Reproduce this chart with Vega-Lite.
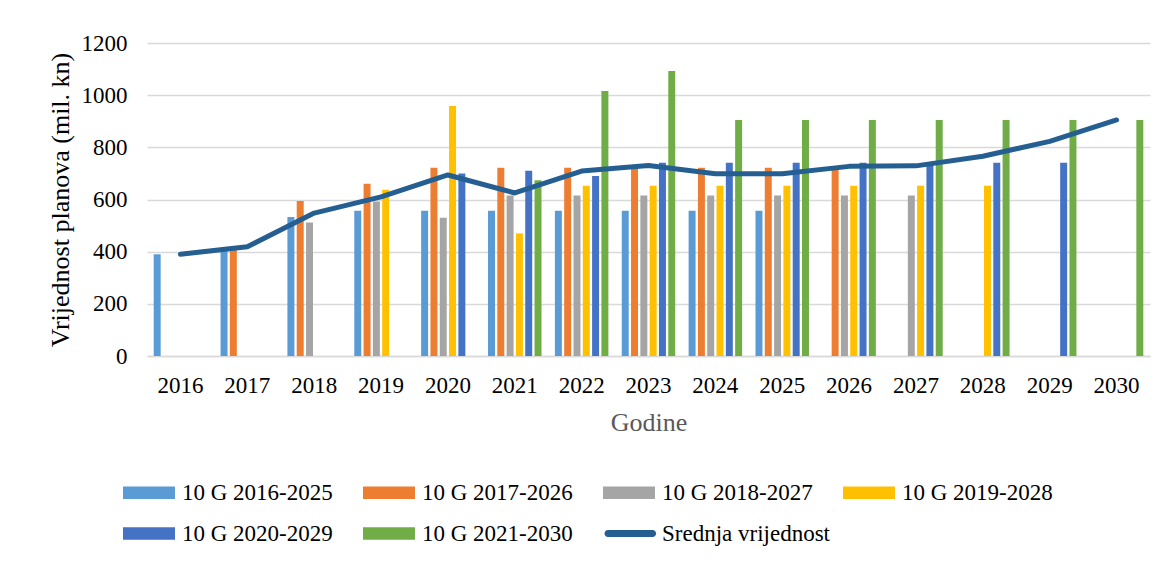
{
  "$schema": "https://vega.github.io/schema/vega-lite/v6.json",
  "autosize": {"type": "none"},
  "padding": {"left": 147, "top": 43, "right": 19, "bottom": 205},
  "width": 1003,
  "height": 313,
  "background": "white",
  "config": {
    "font": "Liberation Serif",
    "view": {"stroke": null},
    "style": {"guide-label": {"font": "Liberation Serif"}, "guide-title": {"font": "Liberation Serif"}},
    "axis": {"labelFont": "Liberation Serif", "titleFont": "Liberation Serif", "labelColor": "#000000", "titleFontWeight": "normal"},
    "legend": {"labelFont": "Liberation Serif"}
  },
  "datasets": {
    "bars": [
      {"year": "2016", "series": "10 G 2016-2025", "value": 390},
      {"year": "2017", "series": "10 G 2016-2025", "value": 412},
      {"year": "2017", "series": "10 G 2017-2026", "value": 420},
      {"year": "2018", "series": "10 G 2016-2025", "value": 533},
      {"year": "2018", "series": "10 G 2017-2026", "value": 594},
      {"year": "2018", "series": "10 G 2018-2027", "value": 512},
      {"year": "2019", "series": "10 G 2016-2025", "value": 557},
      {"year": "2019", "series": "10 G 2017-2026", "value": 660},
      {"year": "2019", "series": "10 G 2018-2027", "value": 592},
      {"year": "2019", "series": "10 G 2019-2028", "value": 637},
      {"year": "2020", "series": "10 G 2016-2025", "value": 557},
      {"year": "2020", "series": "10 G 2017-2026", "value": 722},
      {"year": "2020", "series": "10 G 2018-2027", "value": 530},
      {"year": "2020", "series": "10 G 2019-2028", "value": 958},
      {"year": "2020", "series": "10 G 2020-2029", "value": 700},
      {"year": "2021", "series": "10 G 2016-2025", "value": 557},
      {"year": "2021", "series": "10 G 2017-2026", "value": 722},
      {"year": "2021", "series": "10 G 2018-2027", "value": 615},
      {"year": "2021", "series": "10 G 2019-2028", "value": 470},
      {"year": "2021", "series": "10 G 2020-2029", "value": 710},
      {"year": "2021", "series": "10 G 2021-2030", "value": 674},
      {"year": "2022", "series": "10 G 2016-2025", "value": 557},
      {"year": "2022", "series": "10 G 2017-2026", "value": 722},
      {"year": "2022", "series": "10 G 2018-2027", "value": 615},
      {"year": "2022", "series": "10 G 2019-2028", "value": 653},
      {"year": "2022", "series": "10 G 2020-2029", "value": 690},
      {"year": "2022", "series": "10 G 2021-2030", "value": 1016},
      {"year": "2023", "series": "10 G 2016-2025", "value": 557},
      {"year": "2023", "series": "10 G 2017-2026", "value": 722},
      {"year": "2023", "series": "10 G 2018-2027", "value": 615},
      {"year": "2023", "series": "10 G 2019-2028", "value": 653},
      {"year": "2023", "series": "10 G 2020-2029", "value": 741},
      {"year": "2023", "series": "10 G 2021-2030", "value": 1093},
      {"year": "2024", "series": "10 G 2016-2025", "value": 557},
      {"year": "2024", "series": "10 G 2017-2026", "value": 722},
      {"year": "2024", "series": "10 G 2018-2027", "value": 615},
      {"year": "2024", "series": "10 G 2019-2028", "value": 653},
      {"year": "2024", "series": "10 G 2020-2029", "value": 741},
      {"year": "2024", "series": "10 G 2021-2030", "value": 905},
      {"year": "2025", "series": "10 G 2016-2025", "value": 557},
      {"year": "2025", "series": "10 G 2017-2026", "value": 722},
      {"year": "2025", "series": "10 G 2018-2027", "value": 615},
      {"year": "2025", "series": "10 G 2019-2028", "value": 653},
      {"year": "2025", "series": "10 G 2020-2029", "value": 741},
      {"year": "2025", "series": "10 G 2021-2030", "value": 905},
      {"year": "2026", "series": "10 G 2017-2026", "value": 722},
      {"year": "2026", "series": "10 G 2018-2027", "value": 615},
      {"year": "2026", "series": "10 G 2019-2028", "value": 653},
      {"year": "2026", "series": "10 G 2020-2029", "value": 741},
      {"year": "2026", "series": "10 G 2021-2030", "value": 905},
      {"year": "2027", "series": "10 G 2018-2027", "value": 615},
      {"year": "2027", "series": "10 G 2019-2028", "value": 653},
      {"year": "2027", "series": "10 G 2020-2029", "value": 741},
      {"year": "2027", "series": "10 G 2021-2030", "value": 905},
      {"year": "2028", "series": "10 G 2019-2028", "value": 653},
      {"year": "2028", "series": "10 G 2020-2029", "value": 741},
      {"year": "2028", "series": "10 G 2021-2030", "value": 905},
      {"year": "2029", "series": "10 G 2020-2029", "value": 741},
      {"year": "2029", "series": "10 G 2021-2030", "value": 905},
      {"year": "2030", "series": "10 G 2021-2030", "value": 905}
    ],
    "mean": [
      {"year": "2016", "series": "Srednja vrijednost", "value": 390},
      {"year": "2017", "series": "Srednja vrijednost", "value": 419},
      {"year": "2018", "series": "Srednja vrijednost", "value": 548},
      {"year": "2019", "series": "Srednja vrijednost", "value": 610},
      {"year": "2020", "series": "Srednja vrijednost", "value": 694},
      {"year": "2021", "series": "Srednja vrijednost", "value": 625},
      {"year": "2022", "series": "Srednja vrijednost", "value": 709},
      {"year": "2023", "series": "Srednja vrijednost", "value": 730},
      {"year": "2024", "series": "Srednja vrijednost", "value": 699},
      {"year": "2025", "series": "Srednja vrijednost", "value": 699},
      {"year": "2026", "series": "Srednja vrijednost", "value": 727},
      {"year": "2027", "series": "Srednja vrijednost", "value": 729},
      {"year": "2028", "series": "Srednja vrijednost", "value": 766},
      {"year": "2029", "series": "Srednja vrijednost", "value": 823},
      {"year": "2030", "series": "Srednja vrijednost", "value": 905}
    ]
  },
  "encoding": {
    "x": {
      "field": "year", "type": "nominal",
      "scale": {"domain": ["2016","2017","2018","2019","2020","2021","2022","2023","2024","2025","2026","2027","2028","2029","2030"], "paddingInner": 0.2, "paddingOuter": 0.1},
      "axis": {
        "title": "Godine", "titleFontSize": 26, "titleColor": "#595959", "titlePadding": 12,
        "labelFontSize": 23, "labelAngle": 0, "labelPadding": 18, "ticks": false,
        "domainColor": "#D9D9D9", "domainWidth": 1.5, "grid": false
      }
    },
    "y": {
      "field": "value", "type": "quantitative",
      "scale": {"domain": [0, 1200], "nice": false},
      "axis": {
        "title": "Vrijednost planova (mil. kn)", "titleFontSize": 26, "titleColor": "#000000", "titlePadding": 8,
        "labelFontSize": 23, "labelPadding": 20, "ticks": false, "domain": false, "format": "d",
        "values": [0, 200, 400, 600, 800, 1000, 1200],
        "gridColor": "#D9D9D9", "gridWidth": 1.5
      }
    },
    "color": {
      "field": "series", "type": "nominal",
      "scale": {
        "domain": ["10 G 2016-2025","10 G 2017-2026","10 G 2018-2027","10 G 2019-2028","10 G 2020-2029","10 G 2021-2030","Srednja vrijednost"],
        "range": ["#5B9BD5","#ED7D31","#A5A5A5","#FFC000","#4472C4","#70AD47","#255E91"]
      },
      "legend": {
        "title": null,
        "orient": "none",
        "legendX": -24,
        "legendY": 438,
        "direction": "horizontal",
        "columns": 4,
        "gridAlign": "all",
        "columnPadding": 12,
        "rowPadding": 17,
        "labelFont": "Liberation Serif",
        "labelFontSize": 23,
        "labelColor": "#000000",
        "labelLimit": 400,
        "labelOffset": 36,
        "symbolSize": 169,
        "symbolStrokeWidth": 0,
        "symbolType": "M-1.77,-0.96H6.23V0.96H-1.77Z",
        "encode": {
          "labels": {
            "update": {
              "font": {"value": "Liberation Serif"},
              "fontSize": {"value": 23},
              "fill": {"value": "#000000"}
            }
          },
          "symbols": {
            "update": {
              "shape": [
                {"test": "datum.value === 'Srednja vrijednost'", "value": "M-1.0,-0.54H5.86A0.54,0.54 0 0 1 5.86,0.54H-1.0A0.54,0.54 0 0 1 -1.0,-0.54Z"},
                {"value": "M-1.77,-0.96H6.23V0.96H-1.77Z"}
              ],
              "fill": {"scale": "color", "field": "value"},
              "strokeWidth": {"value": 0},
              "opacity": {"value": 1}
            }
          }
        }
      }
    }
  },
  "layer": [
    {
      "data": {"name": "bars"},
      "mark": {"type": "bar"},
      "encoding": {
        "xOffset": {
          "field": "series", "type": "nominal",
          "scale": {"domain": ["10 G 2016-2025","10 G 2017-2026","10 G 2018-2027","10 G 2019-2028","10 G 2020-2029","10 G 2021-2030"], "paddingInner": 0.25, "paddingOuter": 0}
        }
      }
    },
    {
      "data": {"name": "mean"},
      "mark": {"type": "line", "strokeWidth": 5, "strokeCap": "round", "strokeJoin": "round"},
      "encoding": {}
    }
  ]
}
